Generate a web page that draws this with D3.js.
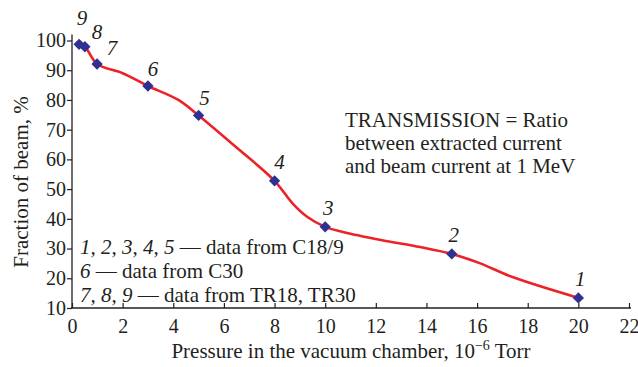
<!DOCTYPE html>
<html>
<head>
<meta charset="utf-8">
<script src="https://cdn.jsdelivr.net/npm/d3@7"></script>
<style>
  body { margin: 0; background: #fff; }
  svg { display: block; }
  svg text { font-family: "Liberation Serif", "DejaVu Serif", serif; }
</style>
</head>
<body>
<div id="chart"></div>
<script>
// measured points (pressure, fraction of beam)
const pointLabels = ["9", "8", "7", "6", "5", "4", "3", "2", "1"];
const pressure = [0.28, 0.51, 0.99, 3.0, 5.0, 8.0, 10.0, 15.0, 20.0];
const fraction = [98.7, 97.9, 92.1, 84.7, 74.8, 52.8, 37.3, 28.2, 13.4];

// red fitted curve
const curvePressure = [0.28, 0.51, 0.99, 2.0, 3.0, 4.2, 5.0, 6.5, 8.0, 8.7, 9.3, 10.0, 10.7, 12.2, 13.75, 15.0, 16.1, 17.4, 20.0];
const curveFraction = [98.7, 97.9, 92.1, 89.0, 84.7, 80.0, 74.8, 64.0, 52.8, 45.3, 40.6, 37.3, 35.6, 32.9, 30.5, 28.2, 25.1, 20.4, 13.4];

const xTicks = d3.range(0, 23, 2);
const yTicks = d3.range(10, 101, 10);

const legendLines = [
  ["1, 2, 3, 4, 5", " — data from C18/9"],
  ["6", " — data from C30"],
  ["7, 8, 9", " — data from TR18, TR30"]
];
const noteLines = ["TRANSMISSION = Ratio", "between extracted current", "and beam current at 1 MeV"];

const width = 638, height = 367;
const svg = d3.select("#chart").append("svg")
  .attr("width", width)
  .attr("height", height);

const x = d3.scaleLinear().domain([0, 22]).range([72, 629]);
const y = d3.scaleLinear().domain([10, 100]).range([308, 40.5]);

const axisColor = "#231f20";

// x axis
const gx = svg.append("g").attr("transform", `translate(0,${y(10)})`)
  .call(d3.axisBottom(x).tickValues(xTicks).tickSizeInner(-5).tickSizeOuter(0).tickPadding(11));
gx.select(".domain").attr("d", `M${x(0) - 1},0H${x(22) + 2}`);

// y axis
const gy = svg.append("g").attr("transform", `translate(${x(0)},0)`)
  .call(d3.axisLeft(y).tickValues(yTicks).tickSizeInner(5).tickSizeOuter(0).tickPadding(1));
gy.select(".domain").attr("d", `M0,${y(10)}V${y(102)}`);

svg.selectAll(".domain").attr("stroke", axisColor).attr("stroke-width", 1.3);
svg.selectAll(".tick line").attr("stroke", axisColor).attr("stroke-width", 1.2);
svg.selectAll("g").attr("font-family", null).attr("font-size", null);
svg.selectAll(".tick text")
  .attr("font-size", 20)
  .attr("fill", axisColor);

// curve
const curveData = curvePressure.map((p, i) => [p, curveFraction[i]]);
svg.append("path")
  .datum(curveData)
  .attr("fill", "none")
  .attr("stroke", "#ec2227")
  .attr("stroke-width", 2.6)
  .attr("d", d3.line().x(d => x(d[0])).y(d => y(d[1])).curve(d3.curveCatmullRom.alpha(0.5)));

// diamonds
svg.append("g").selectAll("path")
  .data(pressure)
  .join("path")
  .attr("transform", (d, i) => `translate(${x(d)},${y(fraction[i])}) rotate(45)`)
  .attr("d", d3.symbol(d3.symbolSquare, 64))
  .attr("fill", "#2e3192");

// point numbers
const labelOffsets = [[3, -19], [12, -8], [15, -9], [5, -10], [6, -10], [5, -12], [3, -12], [2, -12], [2, -12]];
svg.append("g").selectAll("text")
  .data(pressure)
  .join("text")
  .attr("x", (d, i) => x(d) + labelOffsets[i][0])
  .attr("y", (d, i) => y(fraction[i]) + labelOffsets[i][1])
  .attr("text-anchor", "middle")
  .attr("font-style", "italic")
  .attr("font-size", 21)
  .attr("fill", axisColor)
  .text((d, i) => pointLabels[i]);

// legend
const legend = svg.append("g").attr("font-size", 21).attr("fill", axisColor);
legendLines.forEach((ln, i) => {
  const t = legend.append("text").attr("x", 80).attr("y", 254 + i * 24);
  t.append("tspan").attr("font-style", "italic").text(ln[0]);
  t.append("tspan").text(ln[1]);
});

// note
svg.append("g").attr("font-size", 21).attr("fill", axisColor)
  .selectAll("text")
  .data(noteLines)
  .join("text")
  .attr("x", 345)
  .attr("y", (d, i) => 127 + i * 23)
  .text(d => d);

// axis titles
const xt = svg.append("text")
  .attr("x", 351)
  .attr("y", 358)
  .attr("text-anchor", "middle")
  .attr("font-size", 21)
  .attr("fill", axisColor);
xt.append("tspan").text("Pressure in the vacuum chamber, 10");
xt.append("tspan").attr("dy", -8).attr("font-size", 14).text("−6");
xt.append("tspan").attr("dy", 8).text(" Torr");

svg.append("text")
  .attr("transform", `translate(28,${182}) rotate(-90)`)
  .attr("text-anchor", "middle")
  .attr("font-size", 21)
  .attr("fill", axisColor)
  .text("Fraction of beam, %");
</script>
</body>
</html>
